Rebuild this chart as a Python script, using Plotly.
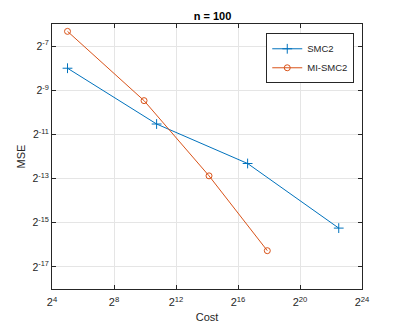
import plotly.graph_objects as go

# Values (log2 scale on both axes)
smc2_cost = [32, 1720, 100700, 5930000]
smc2_mse = [0.0039, 0.000677, 0.000196, 0.0000258]
mi_cost = [32, 982, 17930, 242900]
mi_mse = [0.0124, 0.00141, 0.000133, 0.0000127]

x_exps = [4, 8, 12, 16, 20, 24]
y_exps = [-17, -15, -13, -11, -9, -7]

blue = "#0072BD"
orange = "#D95319"
axis_col = "#262626"

fig = go.Figure()
fig.add_trace(go.Scatter(
    x=smc2_cost, y=smc2_mse, name="SMC2", mode="lines+markers",
    line=dict(color=blue, width=1),
    marker=dict(symbol="cross-thin-open", size=7, line=dict(color=blue, width=1)),
))
fig.add_trace(go.Scatter(
    x=mi_cost, y=mi_mse, name="MI-SMC2", mode="lines+markers",
    line=dict(color=orange, width=1),
    marker=dict(symbol="circle-open", size=6, line=dict(color=orange, width=1)),
))

log2_10 = 0.30102999566

# page body has an 8px margin, so the figure is shrunk by that much
fig.update_layout(
    width=391, height=319,
    margin=dict(l=44, r=37, t=16, b=38),
    paper_bgcolor="white", plot_bgcolor="white",
    font=dict(family="Liberation Sans, Arial, sans-serif", size=10, color=axis_col),
    title=dict(text="<b>n = 100</b>", x=0.523, xanchor="center", y=0.975, yanchor="middle",
               font=dict(size=11, color="black")),
    legend=dict(x=0.975, xanchor="right", y=0.965, yanchor="top",
                bgcolor="white", bordercolor=axis_col, borderwidth=1,
                font=dict(size=9.5), tracegroupgap=0, itemwidth=30),
    showlegend=True,
)
fig.update_xaxes(
    type="log", range=[4 * log2_10, 24 * log2_10],
    tickvals=[2 ** e for e in x_exps],
    ticktext=[f"2<sup>{e}</sup>" for e in x_exps],
    tickfont=dict(size=11), ticklabelstandoff=3,
    showline=True, linecolor=axis_col, linewidth=1, mirror="ticks",
    ticks="inside", ticklen=4, tickcolor=axis_col,
    showgrid=True, gridcolor="#E5E5E5", zeroline=False,
    automargin=False,
    title=dict(text="Cost", font=dict(size=11), standoff=6),
)
fig.update_yaxes(
    type="log", range=[-18 * log2_10, -6 * log2_10],
    tickvals=[2.0 ** e for e in y_exps],
    ticktext=[f"2<sup>{e}</sup>" for e in y_exps],
    tickfont=dict(size=10.5),
    showline=True, linecolor=axis_col, linewidth=1, mirror="ticks",
    ticks="inside", ticklen=4, tickcolor=axis_col,
    showgrid=True, gridcolor="#E5E5E5", zeroline=False,
    automargin=False,
    title=dict(text="MSE", font=dict(size=11), standoff=4),
)

fig.write_html("out.html")
